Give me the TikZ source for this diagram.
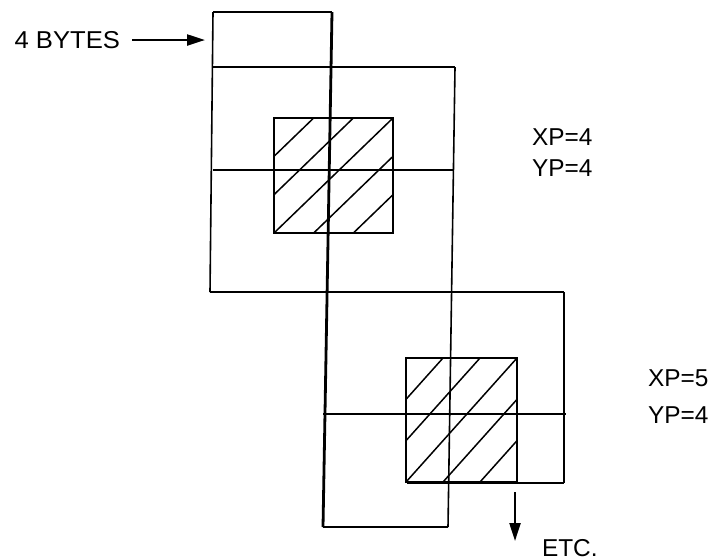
\documentclass[tikz,border=0pt]{standalone}
\usepackage{fontspec}
\setmainfont{Liberation Sans}
\usetikzlibrary{arrows.meta}

\tikzset{
    EDGE/.style={draw=black, line width=0.8pt},
    SPINE_EDGE/.style={draw=black, line width=1.4pt},
    BOX_EDGE/.style={draw=black, line width=1pt},
    HATCH_EDGE/.style={draw=black, line width=0.75pt},
    ARROW_EDGE/.style={draw=black, line width=1.1pt,
        -{Triangle[length=9pt, width=5.5pt]}},
    LABEL/.style={inner sep=0pt, outer sep=0pt,
        font={\fontsize{12.2}{14}\selectfont}}
}
\pgfdeclarelayer{edgelayer}
\pgfdeclarelayer{nodelayer}
\pgfsetlayers{edgelayer,nodelayer,main}

\begin{document}
\begin{tikzpicture}[x=0.5pt, y=-0.5pt]
    \useasboundingbox (0,0) rectangle (726,559);
    \begin{pgfonlayer}{nodelayer}
        \coordinate (1) at (213,12);
        \coordinate (2) at (332,12);
        \coordinate (3) at (213,67);
        \coordinate (4) at (455,67);
        \coordinate (5) at (213,170);
        \coordinate (6) at (453,170);
        \coordinate (7) at (210,292);
        \coordinate (8) at (564,292);
        \coordinate (10) at (448,527);
        \coordinate (11) at (323,527);
        \coordinate (12) at (323,414);
        \coordinate (13) at (566,414);
        \coordinate (14) at (564,483);
        \coordinate (15) at (407,483);
        \coordinate (16) at (274,118);
        \coordinate (17) at (393,233);
        \coordinate (18) at (406,358);
        \coordinate (19) at (517,482);
        \node [LABEL, anchor=east, xscale=1.05] (20) at (120,40) {4 BYTES};
        \coordinate (21) at (205,40);
        \coordinate (22) at (515,492);
        \coordinate (23) at (515,541);
        \node [LABEL, anchor=west] (24) at (542,548) {ETC.};
        \node [LABEL, anchor=west] (25) at (532,137) {XP=4};
        \node [LABEL, anchor=west] (26) at (532,168) {YP=4};
        \node [LABEL, anchor=west] (27) at (648,378) {XP=5};
        \node [LABEL, anchor=west] (28) at (648,415) {YP=4};
    \end{pgfonlayer}
    \begin{pgfonlayer}{edgelayer}
        % hatching
        \begin{scope}
            \clip (16) rectangle (17);
            \foreach \k in {-2,...,2}
                \draw[HATCH_EDGE] ({274+\k*39.67},233) to ({393+\k*39.67},118);
        \end{scope}
        \begin{scope}
            \clip (18) rectangle (19);
            \foreach \k in {-2,...,2}
                \draw[HATCH_EDGE] ({406+\k*37},482) to ({517+\k*37},358);
        \end{scope}
        \draw[BOX_EDGE] (16) rectangle (17);
        \draw[BOX_EDGE] (18) rectangle (19);
        % frames
        \draw[EDGE] (1) to (2);
        \draw[EDGE] (1) to (7);
        \draw[EDGE] (3) to (4);
        \draw[EDGE] (5) to (6);
        \draw[EDGE] (4) to (10);
        \draw[EDGE] (7) to (8);
        \draw[EDGE] (8) to (14);
        \draw[EDGE] (15) to (14);
        \draw[EDGE] (12) to (13);
        \draw[EDGE] (11) to (10);
        \draw[SPINE_EDGE] (2) to (11);
        % arrows
        \draw[ARROW_EDGE] ([xshift=6pt]20.east) to (21);
        \draw[ARROW_EDGE] (22) to (23);
    \end{pgfonlayer}
\end{tikzpicture}
\end{document}
